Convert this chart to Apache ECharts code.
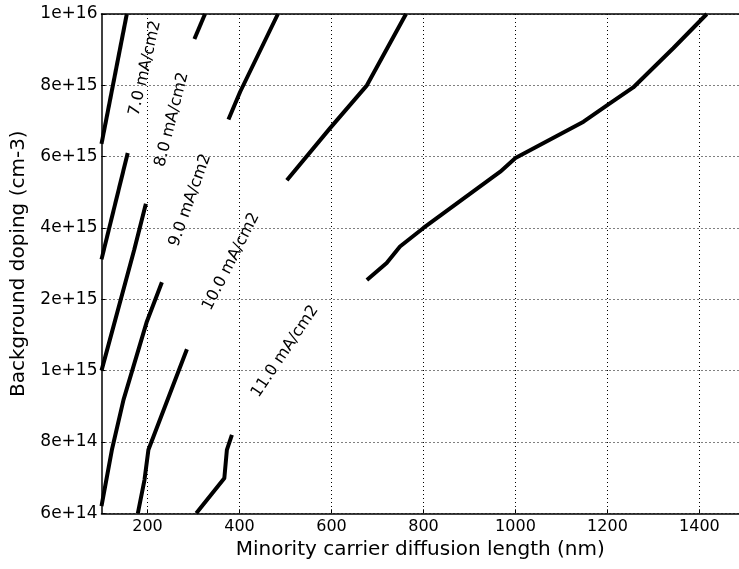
<!DOCTYPE html>
<html>
<head>
<meta charset="utf-8">
<script src="https://cdn.jsdelivr.net/npm/echarts@6/dist/echarts.min.js"></script>
<style>
  html, body { margin: 0; padding: 0; background: #fff; }
  #main { width: 739px; height: 569px; }
</style>
</head>
<body>
<div id="main"></div>
<script>
// y axis is evenly spaced doping levels, index 0 = 6e+14 at the bottom
const yTickLabels = ['6e+14', '8e+14', '1e+15', '2e+15', '4e+15', '6e+15', '8e+15', '1e+16'];
const xTicks = [200, 400, 600, 800, 1000, 1200, 1400];

// contour segments [diffusion length (nm), doping index], broken where labels sit
const c6 = [[100, 5.18], [155, 7.0]];
const c7 = [[100, 3.56], [157, 5.05]];
const c8Upper = [[302, 6.65], [325, 7.0]];
const c8Lower = [[100, 2.0], [171, 3.69], [196.5, 4.34]];
const c9Upper = [[376, 5.52], [401.5, 5.91], [483.5, 7.0]];
const c9Lower = [[100, 0.1], [122.6, 0.89], [147.8, 1.59], [198.7, 2.69], [231.3, 3.24]];
const c10Upper = [[503, 4.67], [597, 5.40], [677, 6.0], [762, 7.0]];
const c10Lower = [[179, 0], [193.5, 0.47], [202, 0.89], [285.7, 2.30]];
const c11Upper = [[677, 3.27], [720, 3.51], [749, 3.74], [800, 4.0], [967, 4.79], [1000, 4.98],
                  [1148, 5.49], [1206, 5.75], [1256, 5.97], [1343, 6.52], [1416, 7.0]];
const c11Lower = [[306, 0], [367, 0.49], [372.6, 0.89], [383.5, 1.10]];

// contour labels: text, position, angle
const labelTexts = ['7.0 mA/cm2', '8.0 mA/cm2', '9.0 mA/cm2', '10.0 mA/cm2', '11.0 mA/cm2'];
const labelPos = [[195, 6.24], [253, 5.52], [292.8, 4.39], [382, 3.53], [499, 2.27]];
const labelAngle = [77, 75.7, 70.4, 63, 56];

const segments = [c6, c7, c8Upper, c8Lower, c9Upper, c9Lower, c10Upper, c10Lower, c11Upper, c11Lower];
const font = 'DejaVu Sans';

let chart = echarts.init(document.getElementById('main'));

let series = segments.map(function (seg) {
    return {
        type: 'line',
        data: seg,
        symbol: 'none',
        smooth: false,
        silent: true,
        lineStyle: {color: '#000', width: 4, cap: 'butt'}
    };
});

series.push({
    type: 'scatter',
    symbolSize: 0,
    silent: true,
    itemStyle: {opacity: 1},
    data: labelPos.map(function (p, i) {
        return {
            value: p,
            label: {
                show: true,
                position: 'inside',
                formatter: labelTexts[i],
                rotate: labelAngle[i],
                color: '#000',
                opacity: 1,
                fontFamily: font,
                fontSize: 16
            }
        };
    })
});

chart.setOption({
    animation: false,
    backgroundColor: '#fff',
    grid: {left: 101.5, right: -2, top: 14, bottom: 55.7},
    xAxis: [{
        type: 'value',
        min: 100,
        max: 1486,
        name: 'Minority carrier diffusion length (nm)',
        nameLocation: 'middle',
        nameGap: 26,
        nameTextStyle: {fontFamily: font, fontSize: 20, color: '#000'},
        axisLine: {show: true, lineStyle: {color: '#000', width: 1.5}},
        axisTick: {show: true, inside: true, length: 4, customValues: xTicks, lineStyle: {color: '#000'}},
        axisLabel: {
            customValues: xTicks, margin: 6, fontFamily: font, fontSize: 16, color: '#000',
            formatter: function (v) { return String(v); }
        },
        splitLine: {show: true, customValues: xTicks, lineStyle: {color: '#000', width: 1, type: [1, 3]}}
    }, {
        // top frame line
        type: 'value', position: 'top', min: 100, max: 1486,
        axisLine: {show: true, lineStyle: {color: '#000', width: 1.5}},
        axisTick: {show: false}, axisLabel: {show: false}, splitLine: {show: false}
    }],
    yAxis: {
        type: 'value',
        min: 0,
        max: 7,
        interval: 1,
        name: 'Background doping (cm-3)',
        nameLocation: 'middle',
        nameGap: 73,
        nameTextStyle: {fontFamily: font, fontSize: 20, color: '#000'},
        axisLine: {show: true, lineStyle: {color: '#000', width: 1.5}},
        axisTick: {show: true, inside: true, length: 4, lineStyle: {color: '#000'}},
        axisLabel: {
            margin: 4,
            fontFamily: font,
            fontSize: 17,
            color: '#000',
            formatter: function (v) { return yTickLabels[Math.round(v)]; }
        },
        splitLine: {show: true, lineStyle: {color: '#000', width: 1, type: [1, 3]}}
    },
    series: series
});
</script>
</body>
</html>
